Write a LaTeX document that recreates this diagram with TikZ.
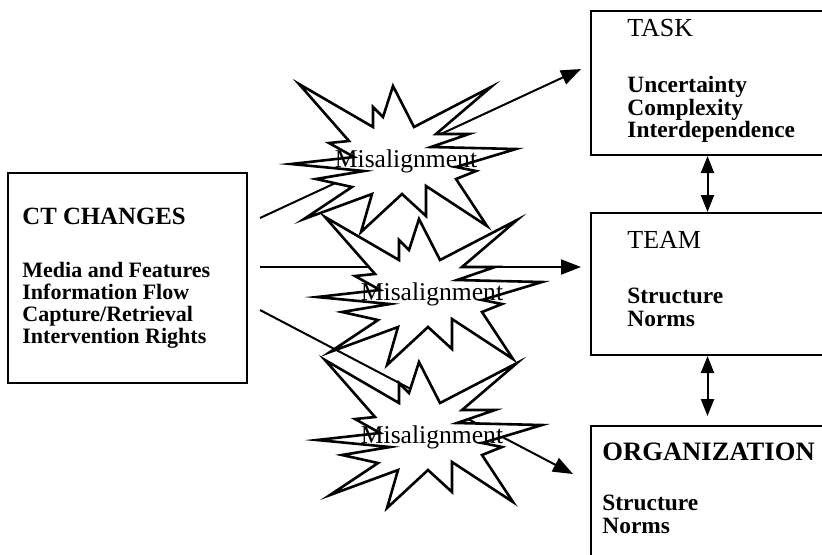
\documentclass[tikz,border=0pt]{standalone}
\usepackage{fontspec}
\setmainfont{Liberation Serif}
\usetikzlibrary{arrows.meta,positioning,calc,fit}
\tikzset{
  box/.style={draw, line width=1pt, inner sep=0pt},
  heading/.style={anchor=base west, inner sep=0pt, font=\fontsize{13}{15}\selectfont},
  items/.style={anchor=north west, inner sep=0pt, align=left,
    font=\fontsize{11.7}{11.25}\selectfont\bfseries},
  flow/.style={-{Triangle[length=10pt,width=7.5pt]}, line width=1pt},
  link/.style={{Triangle[length=8.5pt,width=6.5pt]}-{Triangle[length=8.5pt,width=6.5pt]}, line width=1pt},
  burstline/.style={draw, fill=white, line width=1.3pt},
  bursttext/.style={inner sep=0pt, font=\fontsize{12.8}{14}\selectfont},
  burst/.pic={
    \path[burstline] (-13,-75) -- (8,-34) -- (85,-74) -- (30,-27) -- (63,-27)
      -- (25,-14) -- (110,-12) -- (50,6) -- (70,10) -- (50,18) -- (81,65)
      -- (20,25) -- (20,55) -- (-4,33) -- (-45,71) -- (-34,33) -- (-102,58)
      -- (-54,26) -- (-90,18) -- (-42,10) -- (-115,3) -- (-52,-4) -- (-77,-18)
      -- (-57,-20) -- (-107,-77) -- (-33,-34) -- (-33,-54) -- (-23,-44) -- cycle;
    \node[bursttext] (-label) {Misalignment};
  }
}

\begin{document}
\begin{tikzpicture}[x=0.5pt, y=-0.5pt]
  \useasboundingbox (0,0) rectangle (822,554);
  \clip (0,0) rectangle (822,554);

  % boxes
  \node[box, fit={(8,173) (247,383)}] (ct) {};
  \node[box, fit={(591,11) (824,155)}] (task) {};
  \node[box, fit={(591,213) (824,355)}] (team) {};
  \node[box, fit={(591,426) (824,580)}] (org) {};

  % texts
  \node[heading, font=\fontsize{12.4}{14}\selectfont\bfseries] (ctTitle) at (22,224) {CT CHANGES};
  \node[items, font=\fontsize{11}{11}\selectfont\bfseries] (ctList) at (22,262)
    {Media and Features\\Information Flow\\Capture/Retrieval\\Intervention Rights};
  \node[heading] (taskTitle) at (627,36) {TASK};
  \node[items] (taskList) at (627,76) {Uncertainty\\Complexity\\Interdependence};
  \node[heading] (teamTitle) at (627,248) {TEAM};
  \node[items] (teamList) at (627,288) {Structure\\Norms};
  \node[heading, font=\fontsize{13.3}{15}\selectfont\bfseries] (orgTitle) at (602,460) {ORGANIZATION};
  \node[items] (orgList) at (602,495) {Structure\\Norms};

  % arrow ends
  \coordinate (taskIn) at ($(task.west)+(-9,-14)$);
  \coordinate (teamIn) at ($(team.west)+(-9,-17)$);
  \coordinate (orgIn) at ($(org.north west)+(-17,49)$);

  \draw[flow] ($(ct.east)+(12,-60)$) -- (taskIn);
  \pic (burstA) at (406,161) {burst};
  \draw[flow] ($(ct.east)+(12,-11)$) -- (teamIn);
  \pic (burstB) at (432,294) {burst};
  \draw[flow] ($(ct.east)+(12,32)$) -- (orgIn);
  \pic (burstC) at (432,437) {burst};

  \draw[link] (task.south) -- (team.north);
  \draw[link, shorten >=4.5pt] (team.south) -- (org.north);
\end{tikzpicture}
\end{document}
